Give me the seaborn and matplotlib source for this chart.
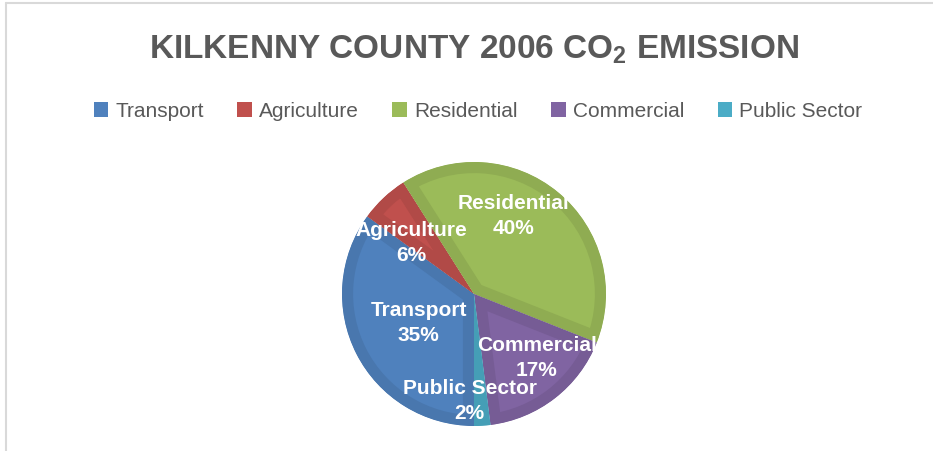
import matplotlib
matplotlib.use("Agg")
import matplotlib.pyplot as plt
import numpy as np
import seaborn as sns
from matplotlib.patches import Patch
from matplotlib.lines import Line2D

# data
sectors = ['Transport', 'Agriculture', 'Residential', 'Commercial', 'Public Sector']
shares = [35, 6, 40, 17, 2]
colors = ['#4F81BD', '#C0504D', '#9BBB59', '#8064A2', '#4BACC6']
title = 'KILKENNY COUNTY 2006 CO$_2$ EMISSION'

sns.set_theme(style='white')
plt.rcParams['font.family'] = ['Liberation Sans', 'DejaVu Sans']
plt.rcParams['mathtext.default'] = 'regular'

pal = sns.color_palette(colors)
edge_pal = [tuple(c * 0.92 for c in col) for col in pal]

fig = plt.figure(figsize=(9.33, 4.52), dpi=100)
fig.patch.set_facecolor('white')

# pie axes: centre ~ (474, 295) px, radius ~132 px
cx, cy, r = 474, 295, 132
ax = fig.add_axes([(cx - r) / 933, (452 - cy - r) / 452, 2 * r / 933, 2 * r / 452])
wedges, _ = ax.pie(shares, colors=pal, startangle=-90, counterclock=False,
                   radius=1, wedgeprops=dict(linewidth=0))
ax.set_xlim(-1, 1)
ax.set_ylim(-1, 1)

# darker inner rim on each slice (stroke clipped to the slice itself)
for w, ec in zip(wedges, edge_pal):
    w.set_edgecolor(ec)
    w.set_linewidth(16)
    w.set_joinstyle('round')
    w.set_clip_on(True)
    w.set_clip_path(w)

# data labels (Excel "best fit" style, placed inside)
lab_dist = [0.47, 0.62, 0.67, 0.675, 0.8]
lab_nudge = [0, 7, 13, 7, -6]
for w, name, val, d, nd in zip(wedges, sectors, shares, lab_dist, lab_nudge):
    ang = np.deg2rad((w.theta1 + w.theta2) / 2 + nd)
    ax.text(d * np.cos(ang), d * np.sin(ang), f'{name}\n{val}%',
            ha='center', va='center', color='white', fontsize=15,
            fontweight='bold', linespacing=1.4)

fig.text(474 / 933, 1 - 59 / 452, title, ha='center', va='baseline',
         fontsize=24, fontweight='bold', color='#595959')

handles = [Patch(facecolor=c, edgecolor='none') for c in pal]
fig.legend(handles, sectors, loc='center', bbox_to_anchor=(478 / 933, 1 - 112 / 452),
           ncol=5, frameon=False, fontsize=15, handlelength=0.7, handleheight=0.7,
           handletextpad=0.35, columnspacing=1.6, labelcolor='#595959')

# chart border (only top and left visible in the crop)
fig.add_artist(Line2D([6 / 933, 6 / 933], [0, 1 - 4 / 452], color='#D9D9D9', lw=1.5))
fig.add_artist(Line2D([6 / 933, 1], [1 - 4 / 452, 1 - 4 / 452], color='#D9D9D9', lw=1.5))

fig.savefig('out.png', dpi=100, facecolor='white')
